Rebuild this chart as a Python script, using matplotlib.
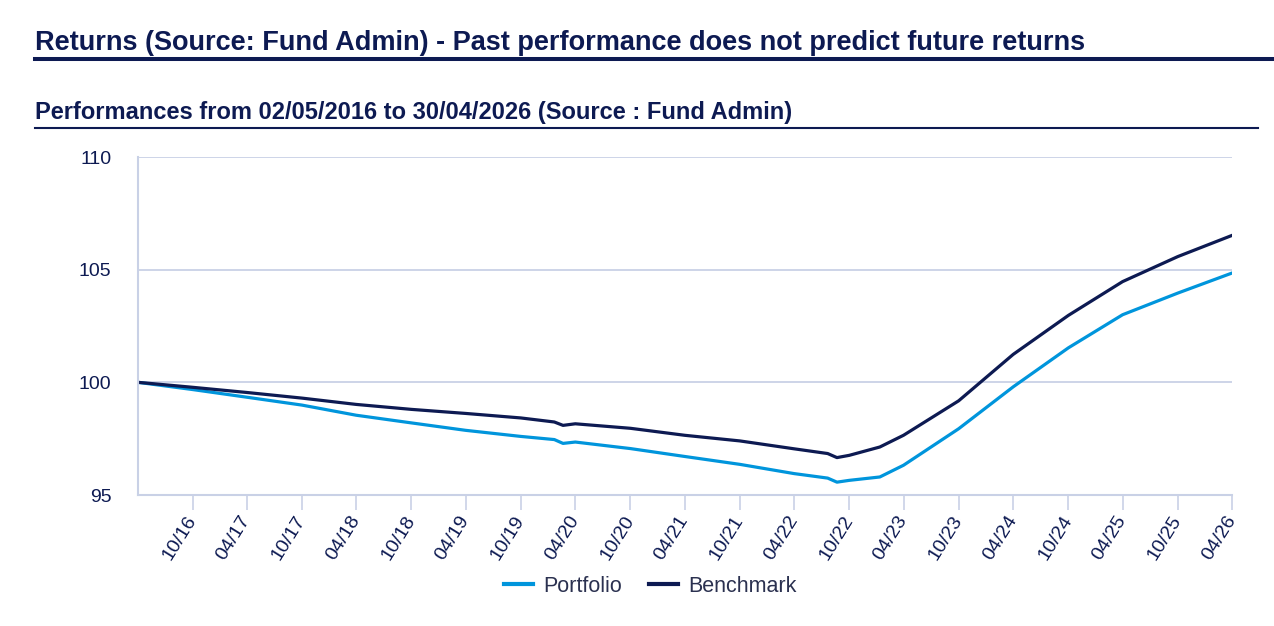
import matplotlib
matplotlib.use("Agg")
import matplotlib.pyplot as plt
import matplotlib.dates as mdates
import pandas as pd

# values (month-end points + a few turning points)
dates = ["2016-05-02", "2016-10-31", "2017-04-30", "2017-10-31", "2018-04-30",
         "2018-10-31", "2019-04-30", "2019-10-31", "2020-02-20", "2020-03-20",
         "2020-04-30", "2020-10-31", "2021-04-30", "2021-10-31", "2022-04-30",
         "2022-08-20", "2022-09-20", "2022-10-31", "2023-02-10", "2023-04-30",
         "2023-10-31", "2024-04-30", "2024-10-31", "2025-04-30", "2025-10-31",
         "2026-04-30"]
benchmark = [100.0, 99.78, 99.55, 99.30, 99.02,
             98.80, 98.62, 98.42, 98.24, 98.09,
             98.16, 97.96, 97.65, 97.40, 97.05,
             96.84, 96.66, 96.76, 97.13, 97.65,
             99.18, 101.24, 102.97, 104.47, 105.58,
             106.52]
portfolio = [100.0, 99.68, 99.34, 98.99, 98.54,
             98.20, 97.87, 97.60, 97.46, 97.29,
             97.35, 97.06, 96.71, 96.36, 95.95,
             95.75, 95.57, 95.65, 95.80, 96.32,
             97.94, 99.80, 101.53, 103.00, 103.96,
             104.85]
tick_dates = ["2016-10-31", "2017-04-30", "2017-10-31", "2018-04-30", "2018-10-31",
              "2019-04-30", "2019-10-31", "2020-04-30", "2020-10-31", "2021-04-30",
              "2021-10-31", "2022-04-30", "2022-10-31", "2023-04-30", "2023-10-31",
              "2024-04-30", "2024-10-31", "2025-04-30", "2025-10-31", "2026-04-30"]
y_ticks = [95, 100, 105, 110]

df = pd.DataFrame({"Date": pd.to_datetime(dates), "Portfolio": portfolio, "Benchmark": benchmark})
ticks = pd.to_datetime(tick_dates)

navy = "#0d1a52"
light = "#0095dc"
grid_c = "#c9d1e6"

plt.rcParams["font.family"] = ["Liberation Sans", "DejaVu Sans"]

fig = plt.figure(figsize=(12.74, 6.26), dpi=100)
ax = fig.add_axes([138/1274, 1 - 495/626, (1232-138)/1274, (495-157)/626])

ax.plot(df["Date"], df["Portfolio"], color=light, lw=2.3, label="Portfolio")
ax.plot(df["Date"], df["Benchmark"], color=navy, lw=2.3, label="Benchmark")

ax.set_xlim(df["Date"].iloc[0], df["Date"].iloc[-1])
ax.set_ylim(95, 110)
ax.set_yticks(y_ticks)
ax.set_xticks(ticks)
ax.xaxis.set_major_formatter(mdates.DateFormatter("%m/%y"))
ax.grid(axis="y", color=grid_c, lw=1.3)
ax.set_axisbelow(True)
for s in ["top", "right"]:
    ax.spines[s].set_visible(False)
for s in ["left", "bottom"]:
    ax.spines[s].set_color(grid_c)
    ax.spines[s].set_linewidth(1.5)
ax.tick_params(axis="y", length=0, pad=19, labelsize=14, labelcolor=navy)
ax.tick_params(axis="x", length=11, width=1.2, color=grid_c, labelsize=14, labelcolor=navy, pad=5)
for lab in ax.get_yticklabels():
    lab.set_verticalalignment("center_baseline")
plt.setp(ax.get_xticklabels(), rotation=58, ha="right", va="center", rotation_mode="anchor")

leg = ax.legend(loc="center", bbox_to_anchor=(650/1274, 1 - 586/626), bbox_transform=fig.transFigure,
                ncol=2, frameon=False, fontsize=15.5, handlelength=1.35, columnspacing=1.25,
                handletextpad=0.47)
for t in leg.get_texts():
    t.set_color("#2b3150")
for h in leg.get_lines():
    h.set_linewidth(3)

fig.text(35/1274, 1 - 43/626, "Returns (Source: Fund Admin) - Past performance does not predict future returns",
         fontsize=19.5, fontweight="bold", color=navy, va="center")
fig.add_artist(plt.Line2D([35/1274, 1], [1 - 59/626, 1 - 59/626], color=navy, lw=2.9))
fig.text(35/1274, 1 - 112/626, "Performances from 02/05/2016 to 30/04/2026 (Source : Fund Admin)",
         fontsize=17, fontweight="bold", color=navy, va="center")
fig.add_artist(plt.Line2D([35/1274, 1258/1274], [1 - 128/626, 1 - 128/626], color=navy, lw=1.5))

fig.savefig("out.png", dpi=100, facecolor="white")
